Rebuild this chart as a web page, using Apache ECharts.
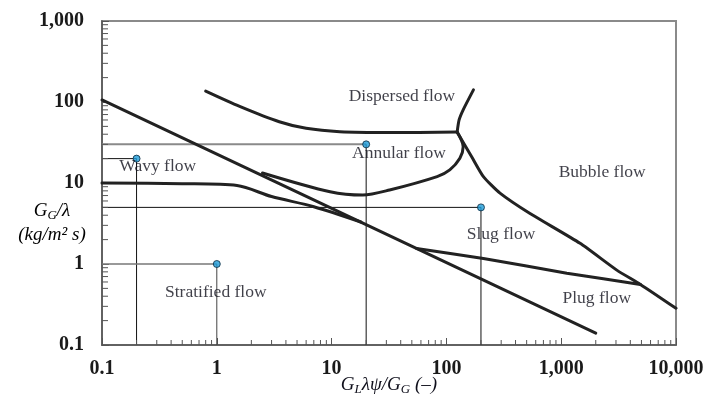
<!DOCTYPE html>
<html>
<head>
<meta charset="utf-8">
<script src="https://cdn.jsdelivr.net/npm/echarts@6/dist/echarts.min.js"></script>
<style>
  html, body { margin: 0; padding: 0; background: #ffffff; }
  #chart { width: 726px; height: 396px; }
</style>
</head>
<body>
<div id="chart"></div>
<script>
// ---- tick labels ----
const xTickLabels = ['0.1', '1', '10', '100', '1,000', '10,000'];
const yTickLabels = ['0.1', '1', '10', '100', '1,000'];

// ---- flow-regime boundary curves [x, y] ----
const lineA = [[0.1, 106], [2000, 0.14]];                       // long diagonal
const curveB = [[0.1, 10], [0.5, 9.8], [1.5, 9.3], [3, 6.8], [7, 5.1], [18, 3.3]];   // wavy / stratified
const curveC = [[2.5, 13.3], [9.7, 7.8], [18.7, 7.1], [32, 8.2], [83, 12], [107, 14.5], [131, 20.2], [140, 28], [124, 42.5]]; // wavy-annular
const curveD = [[0.8, 136], [1.6, 87.5], [3.5, 57], [6, 47.3], [11.8, 43], [32, 42], [124, 42.5]]; // dispersed / annular
const curveE = [[124, 42.5], [129, 60], [140, 80], [172, 141]];      // dispersed / bubble
const curveF = [[124, 42.5], [166, 21.1], [210, 12], [293, 7.5], [535, 4.2], [1460, 1.8], [3050, 0.84], [4900, 0.56], [10000, 0.284]]; // bubble boundary
const curveG = [[55, 1.55], [210, 1.17], [1120, 0.77], [4900, 0.56]]; // slug / plug

// ---- marked example points ----
const samplePoints = [[0.2, 20], [1, 1], [20, 30], [200, 5]];

// ---- region labels ----
const regionNames = ['Dispersed flow', 'Annular flow', 'Wavy flow', 'Bubble flow', 'Slug flow', 'Plug flow', 'Stratified flow'];
const regionX = [41, 38.6, 0.306, 2275, 299, 2042, 0.98];
const regionY = [118.6, 23.3, 15.9, 13.6, 2.33, 0.378, 0.443];

// axis extents
const xMin = 0.1, xMax = 10000, yMin = 0.1, yMax = 1000;

// minor tick positions (2..9 within each decade)
function minorTicks(lo, hi) {
  const out = [];
  for (let d = lo; d < hi; d *= 10) {
    for (let k = 2; k <= 9; k++) out.push(+(k * d).toPrecision(6));
  }
  return out;
}
const xMinor = minorTicks(xMin, xMax).map(v => [v, yMin]);
const yMinor = minorTicks(yMin, yMax).map(v => [xMin, v]);

const SERIF = '"Liberation Serif", "Times New Roman", serif';
const TXT = '#10101c';

const chart = echarts.init(document.getElementById('chart'), null, { renderer: 'canvas' });

function curve(data, smooth) {
  return {
    type: 'line', data: data, showSymbol: false, symbol: 'none', smooth: smooth || false,
    lineStyle: { color: '#222', width: 3, cap: 'round', join: 'round' }, z: 4, silent: true
  };
}
function guide(data, color, width) {
  return {
    type: 'line', data: data, showSymbol: false, symbol: 'none',
    lineStyle: { color: color, width: width }, z: 2, silent: true
  };
}

const option = {
  animation: false,
  backgroundColor: '#ffffff',
  grid: {
    left: 102, right: 50, top: 21, bottom: 51, show: true, borderColor: '#8a8a8a', borderWidth: 2,
    containLabel: false, outerBoundsMode: 'none'
  },
  xAxis: {
    type: 'log', logBase: 10, min: xMin, max: xMax,
    splitLine: { show: false },
    axisLine: { lineStyle: { color: '#555', width: 1.5 } },
    axisTick: { inside: true, length: 7, lineStyle: { color: '#555', width: 1 } },
    axisLabel: {
      margin: 14, fontFamily: SERIF, fontWeight: 'bold', fontSize: 20, color: '#1a1a1a',
      formatter: v => xTickLabels[Math.round(Math.log10(v)) + 1]
    },
    name: '{i|G}{s|L}{i|λψ/G}{s|G}{i| (–)}',
    nameLocation: 'middle', nameGap: 28, nameMoveOverlap: false,
    nameTextStyle: {
      rich: {
        i: { fontFamily: SERIF, fontStyle: 'italic', fontSize: 19, color: TXT },
        s: { fontFamily: SERIF, fontStyle: 'italic', fontSize: 13, color: TXT, padding: [10, 0, 0, 0] }
      }
    }
  },
  yAxis: {
    type: 'log', logBase: 10, min: yMin, max: yMax,
    splitLine: { show: false },
    axisLine: { lineStyle: { color: '#555', width: 1.5 } },
    axisTick: { inside: true, length: 7, lineStyle: { color: '#555', width: 1 } },
    axisLabel: {
      margin: 18, fontFamily: SERIF, fontWeight: 'bold', fontSize: 20, color: '#1a1a1a',
      formatter: v => yTickLabels[Math.round(Math.log10(v)) + 1]
    }
  },
  graphic: [{
    type: 'text', x: 52, y: 223,
    style: {
      text: '{i|G}{s|G}{i|/λ}\n{i|(kg/m² s)}',
      align: 'center', verticalAlign: 'middle',
      rich: {
        i: { fontFamily: SERIF, fontStyle: 'italic', fontSize: 19, color: TXT, lineHeight: 24 },
        s: { fontFamily: SERIF, fontStyle: 'italic', fontSize: 13, color: TXT, padding: [10, 0, 0, 0] }
      }
    }
  }],
  series: [
    // guide lines through sample points
    guide([[xMin, 30], [20, 30]], '#8a8a8a', 2),
    guide([[20, 30], [20, yMin]], '#111', 1),
    guide([[xMin, 20], [0.2, 20], [0.2, yMin]], '#111', 1),
    guide([[xMin, 1], [1, 1]], '#777', 1.5),
    guide([[1, 1], [1, yMin]], '#444', 1),
    guide([[xMin, 5], [200, 5], [200, yMin]], '#111', 1),
    // boundaries
    curve(lineA),
    curve(curveB, 0.3),
    curve(curveC, 0.3),
    curve(curveD, 0.3),
    curve(curveE, 0.2),
    curve(curveF, 0.2),
    curve(curveG, 0.1),
    // sample points
    {
      type: 'scatter', data: samplePoints, symbol: 'circle', symbolSize: 7, z: 6, silent: true,
      itemStyle: { color: '#1d9bd8', borderColor: '#0b2a40', borderWidth: 1 }
    },
    // region labels
    {
      type: 'scatter', symbolSize: 1, z: 7, silent: true,
      itemStyle: { color: 'rgba(0,0,0,0)' },
      data: regionNames.map((n, i) => ({ name: n, value: [regionX[i], regionY[i]] })),
      label: {
        show: true, position: 'inside', formatter: '{b}',
        fontFamily: SERIF, fontSize: 17.5, color: TXT
      }
    },
    // minor ticks
    {
      type: 'custom', data: xMinor, z: 3, silent: true, clip: false,
      renderItem: (params, api) => {
        const p = api.coord([api.value(0), api.value(1)]);
        return { type: 'line', shape: { x1: p[0], y1: p[1], x2: p[0], y2: p[1] - 5 }, style: { stroke: '#555', lineWidth: 1 } };
      }
    },
    {
      type: 'custom', data: yMinor, z: 3, silent: true, clip: false,
      renderItem: (params, api) => {
        const p = api.coord([api.value(0), api.value(1)]);
        return { type: 'line', shape: { x1: p[0], y1: p[1], x2: p[0] + 6, y2: p[1] }, style: { stroke: '#555', lineWidth: 1 } };
      }
    }
  ]
};
chart.setOption(option);
</script>
</body>
</html>
